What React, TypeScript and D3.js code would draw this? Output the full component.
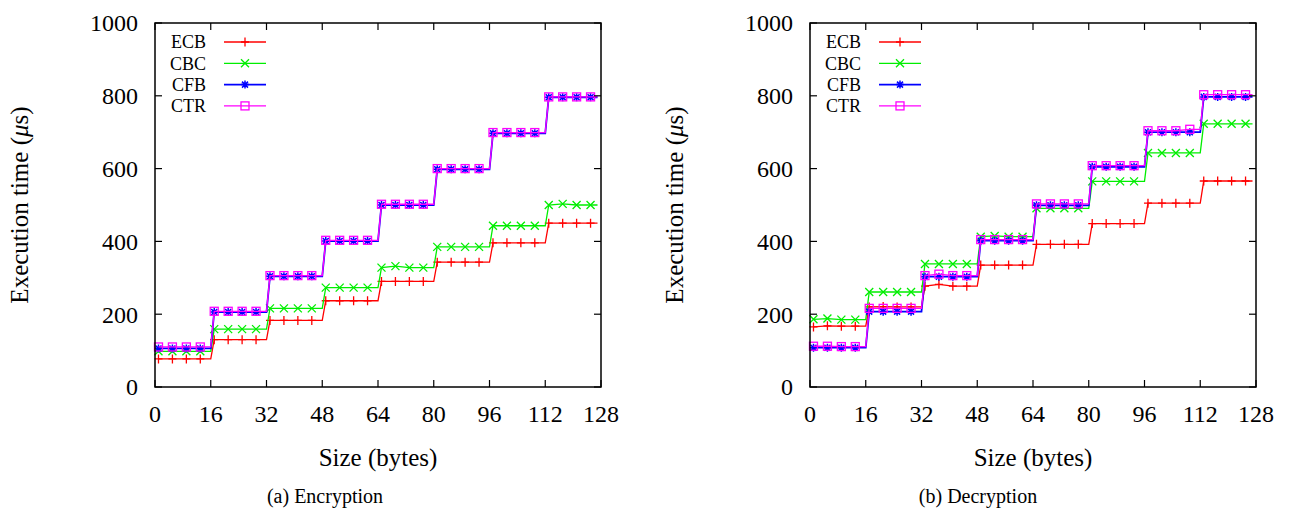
import React from "react";
import { scaleLinear, line } from "d3";

// message sizes where a point is marked (bytes)
const sizes = [
  1, 5, 9, 13, 17, 21, 25, 29, 33, 37, 41, 45, 49, 53, 57, 61,
  65, 69, 73, 77, 81, 85, 89, 93, 97, 101, 105, 109, 113, 117, 121, 125,
];
const xTicks = [0, 16, 32, 48, 64, 80, 96, 112, 128];
const yTicks = [0, 200, 400, 600, 800, 1000];
const modes = ["ECB", "CBC", "CFB", "CTR"];

// encryption (µs)
const encECB = [
  77, 77, 77, 77, 130, 130, 130, 130, 183, 183, 183, 183, 237, 237, 237, 237,
  290, 290, 290, 290, 343, 343, 343, 343, 396, 396, 396, 396, 450, 450, 450, 450,
];
const encCBC = [
  98, 98, 98, 98, 159, 159, 159, 159, 216, 216, 216, 216, 273, 273, 273, 273,
  328, 332, 328, 328, 385, 385, 385, 385, 443, 443, 443, 443, 500, 503, 500, 500,
];
const encCFB = [
  106, 106, 106, 106, 206, 206, 206, 206, 304, 304, 304, 304, 401, 401, 401, 401,
  500, 500, 500, 500, 598, 598, 598, 598, 697, 697, 697, 697, 796, 796, 796, 796,
];
const encCTR = [
  110, 110, 110, 110, 208, 208, 208, 208, 306, 306, 306, 306, 403, 403, 403, 403,
  502, 502, 502, 502, 600, 600, 600, 600, 699, 699, 699, 699, 797, 797, 797, 797,
];

// decryption (µs)
const decECB = [
  165, 168, 167, 167, 220, 221, 220, 220, 277, 282, 277, 277, 335, 335, 335, 335,
  392, 392, 392, 392, 449, 449, 449, 449, 505, 505, 505, 505, 566, 566, 566, 566,
];
const decCBC = [
  186, 188, 185, 185, 261, 261, 261, 261, 338, 338, 338, 338, 413, 415, 413, 413,
  491, 491, 491, 491, 565, 565, 565, 565, 643, 643, 643, 643, 723, 723, 723, 723,
];
const decCFB = [
  108, 108, 108, 108, 207, 207, 207, 207, 303, 303, 303, 303, 402, 402, 402, 402,
  499, 499, 499, 499, 605, 605, 605, 605, 700, 700, 700, 700, 797, 797, 797, 797,
];
const decCTR = [
  112, 112, 111, 111, 216, 216, 216, 216, 306, 310, 306, 306, 405, 405, 405, 405,
  503, 503, 503, 503, 608, 608, 608, 608, 704, 704, 704, 708, 803, 803, 803, 803,
];

const colors = ["#ff0000", "#00ee00", "#0000ff", "#ff00ff"];
const BLOCK = 16;

function Marker({ kind, x, y, color }) {
  if (kind === 0)
    return <path d={`M${x - 4},${y}H${x + 4}M${x},${y - 4.5}V${y + 4.5}`} stroke={color} strokeWidth={1.3} />;
  if (kind === 1)
    return <path d={`M${x - 4},${y - 4}L${x + 4},${y + 4}M${x - 4},${y + 4}L${x + 4},${y - 4}`} stroke={color} strokeWidth={1.3} />;
  if (kind === 2)
    return (
      <path
        d={`M${x - 4},${y}H${x + 4}M${x},${y - 4}V${y + 4}M${x - 3},${y - 3}L${x + 3},${y + 3}M${x - 3},${y + 3}L${x + 3},${y - 3}`}
        stroke={color}
        strokeWidth={1.5}
      />
    );
  return <rect x={x - 4} y={y - 4} width={8} height={8} fill="none" stroke={color} strokeWidth={1.3} />;
}

function Panel({ left, series, caption, captionX }) {
  const width = 446;
  const top = 23;
  const bottom = 387;
  const x = scaleLinear().domain([0, 128]).range([left, left + width]);
  const y = scaleLinear().domain([0, 1000]).range([bottom, top]);

  // flat within a 16-byte block, rising right after the block boundary
  const stepPoints = (vals) => {
    const pts = [];
    vals.forEach((v, i) => {
      pts.push([sizes[i], v]);
      const blk = Math.floor((sizes[i] - 1) / BLOCK);
      const next = i + 1 < sizes.length ? Math.floor((sizes[i + 1] - 1) / BLOCK) : -1;
      if (next !== blk) pts.push([(blk + 1) * BLOCK - (next === -1 ? 1 : 0), v]);
    });
    return pts;
  };
  const lineGen = line()
    .x((d) => x(d[0]))
    .y((d) => y(d[1]));

  const tick = 7;
  const legendX = left + 51;

  return (
    <g>
      {/* series */}
      {series.map((vals, si) => (
        <g key={modes[si]}>
          <path d={lineGen(stepPoints(vals))} fill="none" stroke={colors[si]} strokeWidth={si === 2 ? 1.8 : 1.3} />
          {vals.map((v, i) => (
            <Marker key={i} kind={si} x={x(sizes[i])} y={y(v)} color={colors[si]} />
          ))}
        </g>
      ))}

      {/* frame & ticks */}
      <rect x={left} y={top} width={width} height={bottom - top} fill="none" stroke="#000" strokeWidth={1.5} />
      {xTicks.map((t) => (
        <g key={"x" + t}>
          <line x1={x(t)} x2={x(t)} y1={bottom} y2={bottom - tick} stroke="#000" strokeWidth={1.2} />
          <line x1={x(t)} x2={x(t)} y1={top} y2={top + tick} stroke="#000" strokeWidth={1.2} />
          <text x={x(t)} y={422} textAnchor="middle" fontSize={24}>
            {t}
          </text>
        </g>
      ))}
      {yTicks.map((t) => (
        <g key={"y" + t}>
          <line x1={left} x2={left + tick} y1={y(t)} y2={y(t)} stroke="#000" strokeWidth={1.2} />
          <line x1={left + width} x2={left + width - tick} y1={y(t)} y2={y(t)} stroke="#000" strokeWidth={1.2} />
          <text x={left - 17} y={y(t)} dy="0.35em" textAnchor="end" fontSize={24}>
            {t}
          </text>
        </g>
      ))}

      {/* legend */}
      {modes.map((m, i) => {
        const ly = 42 + i * 21.3;
        return (
          <g key={m}>
            <text x={legendX} y={ly} dy="0.35em" textAnchor="end" fontSize={18}>
              {m}
            </text>
            <line x1={legendX + 18} x2={legendX + 60} y1={ly} y2={ly} stroke={colors[i]} strokeWidth={i === 2 ? 1.8 : 1.3} />
            <Marker kind={i} x={legendX + 39} y={ly} color={colors[i]} />
          </g>
        );
      })}

      {/* axis titles */}
      <text x={left + width / 2} y={466} textAnchor="middle" fontSize={25}>
        Size (bytes)
      </text>
      <text transform={`translate(${left - 127},${205}) rotate(-90)`} textAnchor="middle" fontSize={25}>
        Execution time (<tspan fontStyle="italic">μ</tspan>s)
      </text>
      <text x={captionX} y={503} textAnchor="middle" fontSize={20}>
        {caption}
      </text>
    </g>
  );
}

export default function App() {
  return (
    <svg
      width={1291}
      height={509}
      style={{
        position: "absolute",
        left: 0,
        top: 0,
        background: "#fff",
        fontFamily: '"Liberation Serif", "Times New Roman", serif',
      }}
    >
      <Panel left={155} series={[encECB, encCBC, encCFB, encCTR]} caption="(a) Encryption" captionX={325} />
      <Panel left={810} series={[decECB, decCBC, decCFB, decCTR]} caption="(b) Decryption" captionX={978} />
    </svg>
  );
}
